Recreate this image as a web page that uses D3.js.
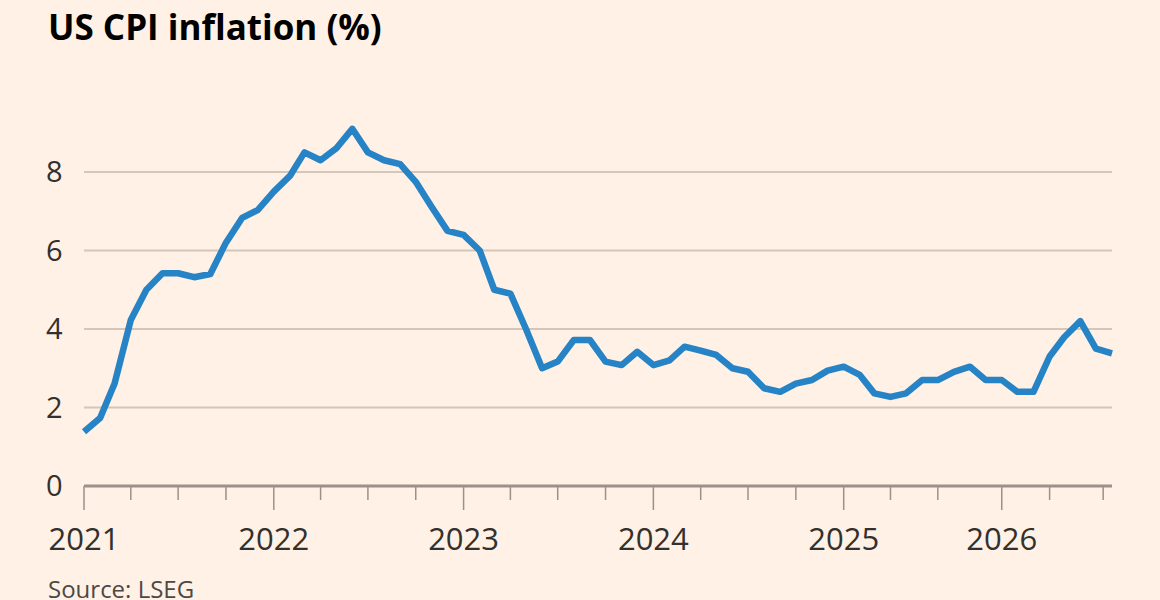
<!DOCTYPE html>
<html>
<head>
<meta charset="utf-8">
<script src="https://cdn.jsdelivr.net/npm/d3@7"></script>
<style>
  html, body { margin: 0; padding: 0; background: #fff1e5; overflow: hidden; }
  text { font-family: "Open Sans", "Noto Sans", sans-serif; fill: #33302e; }
</style>
</head>
<body>
<div id="chart"></div>
<script>
//monthly CPI values, Jan 2021 onwards
var cpi = [1.38, 1.73, 2.62, 4.23, 5.0, 5.42, 5.42, 5.32, 5.4, 6.2, 6.83, 7.03,
    7.5, 7.9, 8.5, 8.3, 8.6, 9.1, 8.5, 8.3, 8.2, 7.75, 7.1, 6.5,
    6.4, 6.0, 5.0, 4.9, 4.0, 3.0, 3.17, 3.72, 3.72, 3.17, 3.08, 3.42,
    3.08, 3.2, 3.55, 3.45, 3.34, 3.0, 2.91, 2.49, 2.4, 2.61, 2.7, 2.94,
    3.04, 2.83, 2.36, 2.27, 2.36, 2.7, 2.7, 2.91, 3.04, 2.7, 2.7, 2.4,
    2.4, 3.3, 3.79, 4.2, 3.5, 3.38];

var data = cpi.map(function(v, i){ return {date: new Date(2021, i, 1), value: v}; });

//tick positions as drawn in the original chart
var majorTicks = [
    {date: new Date(2021, 0, 1), label: "2021"},
    {date: new Date(2022, 0, 1), label: "2022"},
    {date: new Date(2023, 0, 1), label: "2023"},
    {date: new Date(2024, 0, 1), label: "2024"},
    {date: new Date(2025, 0, 1), label: "2025"},
    {date: new Date(2025, 10, 1), label: "2026"}
];
var minorTicks = [];
for (var yr = 2021; yr < 2025; yr++) {
    [3, 6, 9].forEach(function(m){ minorTicks.push(new Date(yr, m, 1)); });
}
minorTicks.push(new Date(2025, 3, 1), new Date(2025, 6, 1), new Date(2026, 1, 1), new Date(2026, 4, 15));

const width = 1160, height = 600;
const svg = d3.select("#chart").append("svg")
    .attr("width", width)
    .attr("height", height);

const x = d3.scaleTime()
    .domain([new Date(2021, 0, 1), new Date(2026, 5, 1)])
    .range([84, 1112]);

const y = d3.scaleLinear()
    .domain([0, 8])
    .range([486, 172]);

//title
svg.append("text")
    .attr("x", 48)
    .attr("y", 40)
    .attr("font-size", 35)
    .attr("font-weight", 700)
    .style("fill", "#000")
    .text("US CPI inflation (%)");

//gridlines and y labels
const yTicks = [0, 2, 4, 6, 8];
svg.append("g").selectAll("line")
    .data(yTicks.filter(function(d){ return d > 0; }))
    .enter().append("line")
    .attr("x1", 84).attr("x2", 1112)
    .attr("y1", function(d){ return y(d); })
    .attr("y2", function(d){ return y(d); })
    .attr("stroke", "#d4c6b8")
    .attr("stroke-width", 2);

svg.append("g").selectAll("text")
    .data(yTicks)
    .enter().append("text")
    .attr("x", 46)
    .attr("y", function(d){ return y(d); })
    .attr("dy", "0.35em")
    .attr("font-size", 29)
    .text(function(d){ return d; });

//x axis
svg.append("g").selectAll("line")
    .data(minorTicks)
    .enter().append("line")
    .attr("x1", function(d){ return x(d); })
    .attr("x2", function(d){ return x(d); })
    .attr("y1", 486).attr("y2", 500)
    .attr("stroke", "#9b918a")
    .attr("stroke-width", 1.5);

svg.append("g").selectAll("line")
    .data(majorTicks)
    .enter().append("line")
    .attr("x1", function(d){ return x(d.date); })
    .attr("x2", function(d){ return x(d.date); })
    .attr("y1", 486).attr("y2", 510)
    .attr("stroke", "#9b918a")
    .attr("stroke-width", 1.5);

svg.append("line")
    .attr("x1", 84).attr("x2", 1112)
    .attr("y1", 486).attr("y2", 486)
    .attr("stroke", "#9b918a")
    .attr("stroke-width", 3);

svg.append("g").selectAll("text")
    .data(majorTicks)
    .enter().append("text")
    .attr("x", function(d){ return x(d.date); })
    .attr("y", 550)
    .attr("text-anchor", "middle")
    .attr("font-size", 31)
    .text(function(d){ return d.label; });

//cpi line
const line = d3.line()
    .x(function(d){ return x(d.date); })
    .y(function(d){ return y(d.value); });

svg.append("path")
    .datum(data)
    .attr("d", line)
    .attr("fill", "none")
    .attr("stroke", "#2683c6")
    .attr("stroke-width", 6.5)
    .attr("stroke-linejoin", "round");

//source
svg.append("text")
    .attr("x", 48)
    .attr("y", 598)
    .attr("font-size", 24)
    .style("fill", "#4d4845")
    .text("Source: LSEG");
</script>
</body>
</html>
